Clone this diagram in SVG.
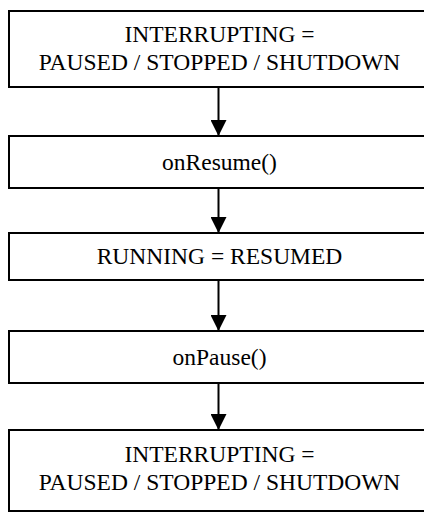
<svg xmlns="http://www.w3.org/2000/svg" width="424" height="512" viewBox="0 0 424 512">
<defs>
<style>
.box{fill:#fff;stroke:#000;stroke-width:2}
.c{stroke:#000;stroke-width:2;fill:none}
</style>
<marker id="ah" markerWidth="16" markerHeight="16" refX="16" refY="8" orient="auto" markerUnits="userSpaceOnUse">
<path d="M0,0 L16,8 L0,16 Z" fill="#000"/>
</marker>
</defs>
<rect width="424" height="512" fill="#fff"/>
<g id="connectors">
<line class="c" x1="218.5" y1="87" x2="218.5" y2="136" marker-end="url(#ah)"/>
<line class="c" x1="218.5" y1="188" x2="218.5" y2="233" marker-end="url(#ah)"/>
<line class="c" x1="218.5" y1="280" x2="218.5" y2="331" marker-end="url(#ah)"/>
<line class="c" x1="218.5" y1="383" x2="218.5" y2="430" marker-end="url(#ah)"/>
</g>
<g font-family="'Liberation Serif', 'Times New Roman', Times, serif" font-size="23.5" fill="#000" text-anchor="middle">
<g id="n1">
<rect class="box" x="9" y="11" width="420" height="76"/>
<text x="219.5" y="42">INTERRUPTING =</text>
<text x="219.5" y="70">PAUSED / STOPPED / SHUTDOWN</text>
</g>
<g id="n2">
<rect class="box" x="9" y="136" width="420" height="52"/>
<text x="219.5" y="170">onResume()</text>
</g>
<g id="n3">
<rect class="box" x="9" y="233" width="420" height="47"/>
<text x="219.5" y="264">RUNNING = RESUMED</text>
</g>
<g id="n4">
<rect class="box" x="9" y="331" width="420" height="52"/>
<text x="219.5" y="365">onPause()</text>
</g>
<g id="n5">
<rect class="box" x="9" y="430" width="420" height="81"/>
<text x="219.5" y="462">INTERRUPTING =</text>
<text x="219.5" y="490">PAUSED / STOPPED / SHUTDOWN</text>
</g>
</g>
</svg>
